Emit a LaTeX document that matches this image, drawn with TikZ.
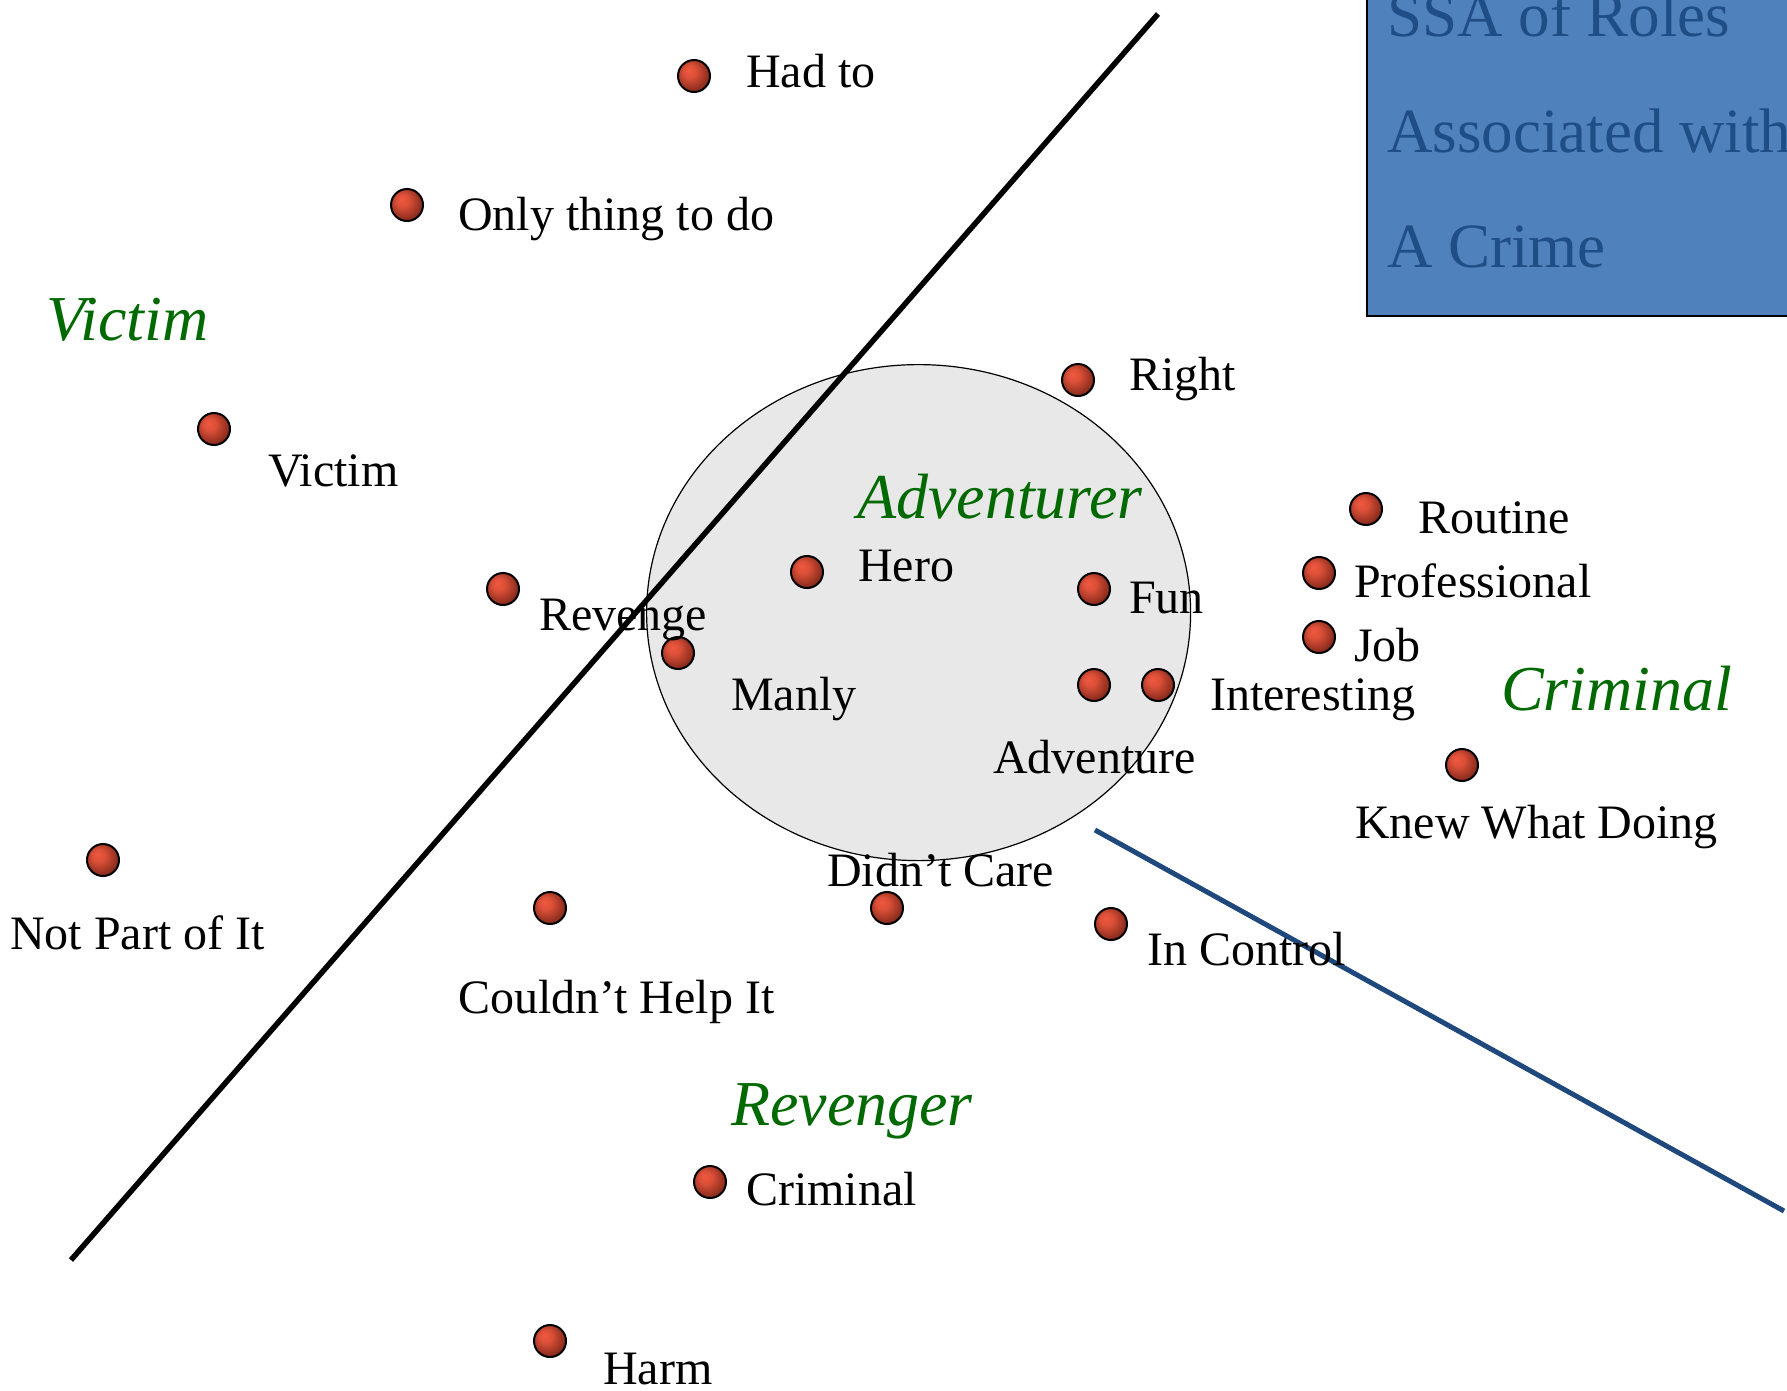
\documentclass[tikz,border=0pt]{standalone}
\usepackage{fontspec}
\setmainfont{Liberation Serif}
\usepackage{xcolor}
\usepackage{tikz}
\usetikzlibrary{shapes.geometric, positioning, calc}
\definecolor{roleg}{RGB}{0,105,0}
\definecolor{boxblue}{RGB}{79,129,189}
\definecolor{boxtext}{RGB}{31,78,135}
\definecolor{splitblue}{RGB}{31,73,125}
\definecolor{dotlight}{RGB}{240,88,62}
\definecolor{dotdark}{RGB}{105,30,18}
\pgfdeclareradialshading{dotball}{\pgfpoint{-9bp}{9bp}}{color(0bp)=(dotlight); color(10bp)=(dotlight!85!dotdark); color(34bp)=(dotdark); color(50bp)=(dotdark)}
\tikzstyle{splitline} = [line width=5.5pt, black]
\tikzset{
ssadot/.style={circle, draw=black, line width=2pt, minimum size=32pt, inner sep=0pt, shading=dotball},
itemlbl/.style={anchor=base west, inner sep=0pt, font=\fontsize{48}{58}\selectfont},
rolelbl/.style={anchor=base west, inner sep=0pt, text=roleg, font=\fontsize{64}{76}\selectfont\itshape},
headlbl/.style={anchor=base west, inner sep=0pt, text=boxtext, font=\fontsize{63}{76}\selectfont}
}

\begin{document}
\begin{tikzpicture}[x=1pt, y=-1pt]
\useasboundingbox (0,0) rectangle (1787,1390);
%----------------------------------------------------------------------------
% Region and partition lines
\node (advRegion) [ellipse, draw=black, line width=1.2pt, fill=black!9, minimum width=544pt, minimum height=496pt, inner sep=0pt] at (918.6,612.6) {};
\coordinate (cutTop) at (1158,14);
\coordinate (cutBot) at (71,1260);
\coordinate (cutRightA) at (1095,830);
\coordinate (cutRightB) at (1784,1211);
\draw [splitline] (cutTop) -- (cutBot);
\draw [line width=5pt, splitblue] (cutRightA) -- (cutRightB);

%----------------------------------------------------------------------------
% Title box
\node (titleBox) [rectangle, draw=black, line width=2.5pt, fill=boxblue, minimum width=453pt, minimum height=336pt] at (1593.5,148) {};
\node (titleA) [headlbl] at (1387,36) {SSA of Roles};
\node (titleB) [headlbl] at (1387,152) {Associated with};
\node (titleC) [headlbl] at (1387,267) {A Crime};

%----------------------------------------------------------------------------
% Placement of points
\node (hadTo) [ssadot] at (694,76) {};
\node (onlyThing) [ssadot] at (407,205) {};
\node (victim) [ssadot] at (214,429) {};
\node (right) [ssadot] at (1078,380) {};
\node (routine) [ssadot] at (1366,509) {};
\node (professional) [ssadot] at (1319,573) {};
\node (job) [ssadot] at (1319,637) {};
\node (knewWhat) [ssadot] at (1462,765) {};
\node (revenge) [ssadot] at (503,589) {};
\node (hero) [ssadot] at (807,572) {};
\node (fun) [ssadot] at (1094,589) {};
\node (manly) [ssadot] at (678,653) {};
\node (adventure) [ssadot] at (1094,685) {};
\node (interesting) [ssadot] at (1158,685) {};
\node (notPart) [ssadot] at (103,860) {};
\node (couldnt) [ssadot] at (550,908) {};
\node (didntCare) [ssadot] at (887,908) {};
\node (inControl) [ssadot] at (1111,924) {};
\node (criminal) [ssadot] at (710,1182) {};
\node (harm) [ssadot] at (550,1341) {};

%----------------------------------------------------------------------------
% Point labels
\node (hadToLbl) [itemlbl] at (746,87) {Had to};
\node (onlyThingLbl) [itemlbl] at (458,230) {Only thing to do};
\node (victimLbl) [itemlbl] at (268,486) {Victim};
\node (rightLbl) [itemlbl] at (1129,390) {Right};
\node (routineLbl) [itemlbl] at (1418,533) {Routine};
\node (professionalLbl) [itemlbl] at (1354,597) {Professional};
\node (jobLbl) [itemlbl] at (1354,661) {Job};
\node (knewWhatLbl) [itemlbl] at (1355,838) {Knew What Doing};
\node (revengeLbl) [itemlbl] at (539,630) {Revenge};
\node (heroLbl) [itemlbl] at (858,581) {Hero};
\node (funLbl) [itemlbl] at (1129,613) {Fun};
\node (manlyLbl) [itemlbl] at (731,710) {Manly};
\node (adventureLbl) [itemlbl] at (993,773) {Adventure};
\node (interestingLbl) [itemlbl] at (1210,710) {Interesting};
\node (notPartLbl) [itemlbl] at (10,949) {Not Part of It};
\node (couldntLbl) [itemlbl] at (458,1013) {Couldn’t Help It};
\node (didntCareLbl) [itemlbl] at (827,886) {Didn’t Care};
\node (inControlLbl) [itemlbl] at (1147,965) {In Control};
\node (criminalLbl) [itemlbl] at (746,1205) {Criminal};
\node (harmLbl) [itemlbl] at (603,1384) {Harm};

%----------------------------------------------------------------------------
% Role names
\node (roleVictim) [rolelbl] at (46,340) {Victim};
\node (roleAdventurer) [rolelbl] at (857,518) {Adventurer};
\node (roleCriminal) [rolelbl] at (1501,710) {Criminal};
\node (roleRevenger) [rolelbl] at (731,1125) {Revenger};

\end{tikzpicture}
\end{document}
